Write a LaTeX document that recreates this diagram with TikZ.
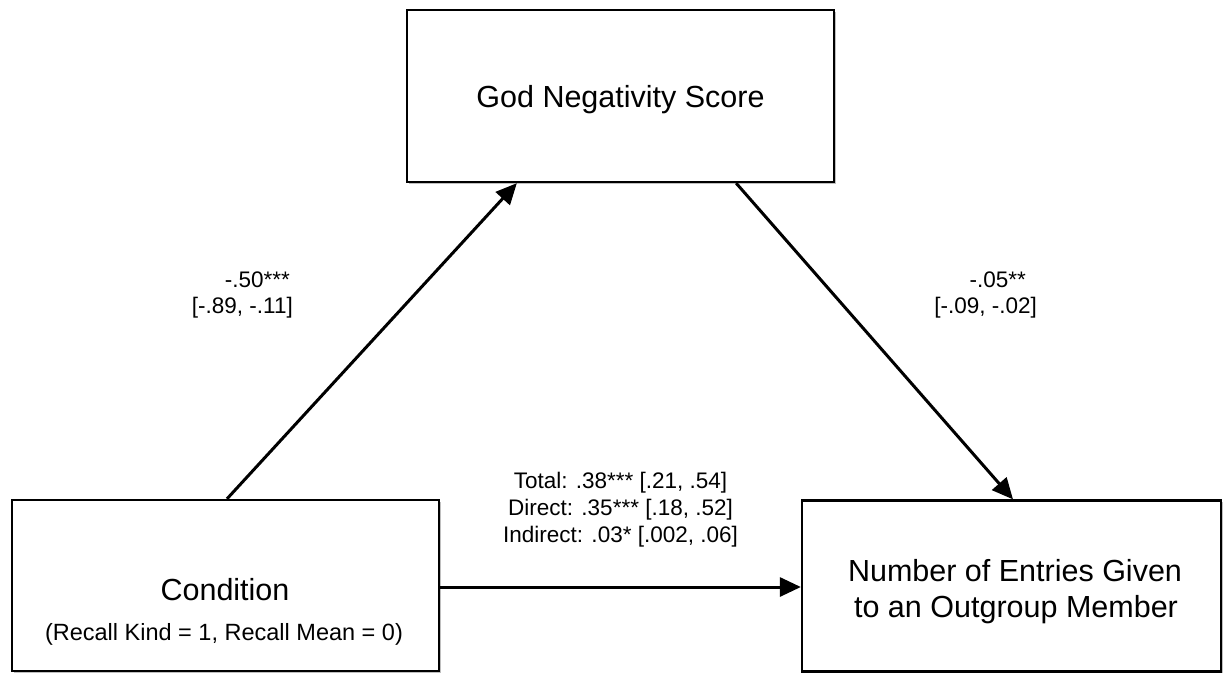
\documentclass[tikz,border=0pt]{standalone}
\usepackage{fontspec}
\setmainfont{Liberation Sans}
\usetikzlibrary{arrows.meta,shadows}
\begin{document}
\begin{tikzpicture}[x=1pt,y=-1pt,
  boxnode/.style={draw=black,line width=2.3pt,fill=white,rectangle,inner sep=0pt,
    drop shadow={shadow xshift=1.5pt,shadow yshift=-1.5pt,opacity=0.25,fill=black}},
  bigtext/.style={font=\fontsize{30.5}{36}\selectfont,inner sep=0pt,anchor=base},
  subtext/.style={font=\fontsize{23.5}{28}\selectfont,inner sep=0pt,anchor=base},
  coeftext/.style={font=\fontsize{22.5}{27}\selectfont,inner sep=0pt},
  pathline/.style={line width=3pt,-{Triangle[length=21pt,width=19pt]}}
]
\useasboundingbox (0,0) rectangle (1223,673);
\fill[white] (0,0) rectangle (1223,673);

% boxes
\node[boxnode,minimum width=427pt,minimum height=172pt] (god) at (620.5,96) {};
\node[boxnode,minimum width=427pt,minimum height=171pt] (cond) at (225.5,585.5) {};
\node[boxnode,minimum width=419pt,minimum height=171pt] (out) at (1011.5,586) {};

% box texts
\node[bigtext] (godtxt) at (620.5,107) {God Negativity Score};
\node[bigtext] (condtxt) at (225,600) {Condition};
\node[subtext] (condsub) at (224,640) {(Recall Kind = 1, Recall Mean = 0)};
\node[bigtext] (outtxta) at (1015,581) {Number of Entries Given};
\node[bigtext] (outtxtb) at (1016,617) {to an Outgroup Member};

% connectors
\draw[pathline] ([xshift=1.5pt]cond.north) -- ([xshift=111pt]god.south west);
\draw[pathline] ([xshift=-99pt]god.south east) -- ([xshift=1.5pt]out.north);
\draw[pathline] ([yshift=-1.5pt]cond.east) -- ([yshift=-1.5pt]cond.east -| out.west);

% coefficient labels
\node[coeftext,anchor=base east] (aone) at (290,287) {-.50***};
\node[coeftext,anchor=base east] (atwo) at (293,313) {[-.89, -.11]};
\node[coeftext,anchor=base east] (bone) at (1026,287) {-.05**};
\node[coeftext,anchor=base east] (btwo) at (1037,313) {[-.09, -.02]};
\node[coeftext,anchor=base] (cone) at (620.5,488) {Total: .38*** [.21, .54]};
\node[coeftext,anchor=base] (ctwo) at (620.5,515) {Direct: .35*** [.18, .52]};
\node[coeftext,anchor=base] (cthree) at (620.5,542) {Indirect: .03* [.002, .06]};
\end{tikzpicture}
\end{document}
